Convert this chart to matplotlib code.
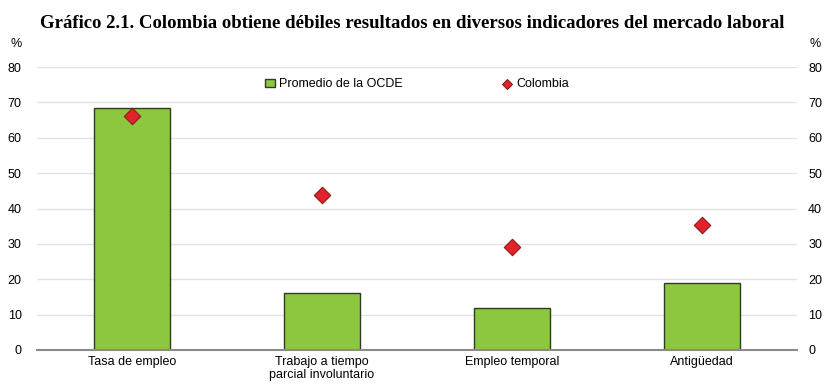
import matplotlib.pyplot as plt

categories = ['Tasa de empleo', 'Trabajo a tiempo\nparcial involuntario',
              'Empleo temporal', 'Antigüedad']
ocde = [68.4, 16.1, 11.9, 18.9]
colombia = [66.1, 43.8, 29.1, 35.3]
yticks = [0, 10, 20, 30, 40, 50, 60, 70, 80]

plt.rcParams['font.family'] = ['Liberation Sans', 'DejaVu Sans']

fig = plt.figure(figsize=(8.25, 3.85), dpi=100)
ax = fig.add_axes([37 / 825, 1 - 350 / 385, 760 / 825, 283 / 385])

x = list(range(len(categories)))
bars = ax.bar(x, ocde, width=0.4, color='#8DC63F', edgecolor='#2F3B22', linewidth=1.0,
              label='Promedio de la OCDE', zorder=2)
pts = ax.scatter(x, colombia, marker='D', s=70, color='#E3232B', edgecolor='#8B1A1A',
                 linewidth=0.8, label='Colombia', zorder=3)

ax.set_xlim(-0.5, 3.5)
ax.set_ylim(0, 80)
ax.set_yticks(yticks)
ax.set_xticks(x)
ax.set_xticklabels(categories, fontsize=9)
ax.tick_params(axis='y', labelsize=9, length=0, pad=11)
ax.tick_params(axis='x', length=0, pad=4)

# right-hand axis repeats the scale
ax2 = ax.twinx()
ax2.set_ylim(0, 80)
ax2.set_yticks(yticks)
ax2.tick_params(axis='y', labelsize=9, length=0, pad=8)
for s in ['top', 'right', 'left', 'bottom']:
    ax2.spines[s].set_visible(False)

ax.grid(axis='y', color='#E3E3E3', linewidth=1.0, zorder=0)
for s in ['top', 'right', 'left']:
    ax.spines[s].set_visible(False)
ax.spines['bottom'].set_color('#8A8A8A')
ax.spines['bottom'].set_linewidth(1.5)
ax.spines['bottom'].set_zorder(4)

ax.text(-0.028, 1.08, '%', transform=ax.transAxes, fontsize=9, ha='center', va='center')
ax.text(1.024, 1.08, '%', transform=ax.transAxes, fontsize=9, ha='center', va='center')

ax.legend([bars, pts], ['Promedio de la OCDE', 'Colombia'], loc='upper center',
          bbox_to_anchor=(0.5, 1.0), ncol=2, frameon=False, fontsize=9,
          columnspacing=8, handlelength=0.8, handletextpad=0.3, markerscale=0.6)

fig.text(0.5, 0.94, 'Gráfico 2.1. Colombia obtiene débiles resultados en diversos indicadores del mercado laboral',
         ha='center', va='center', fontsize=13.5, fontweight='bold', family='Liberation Serif')

fig.savefig('out.png', dpi=100)
